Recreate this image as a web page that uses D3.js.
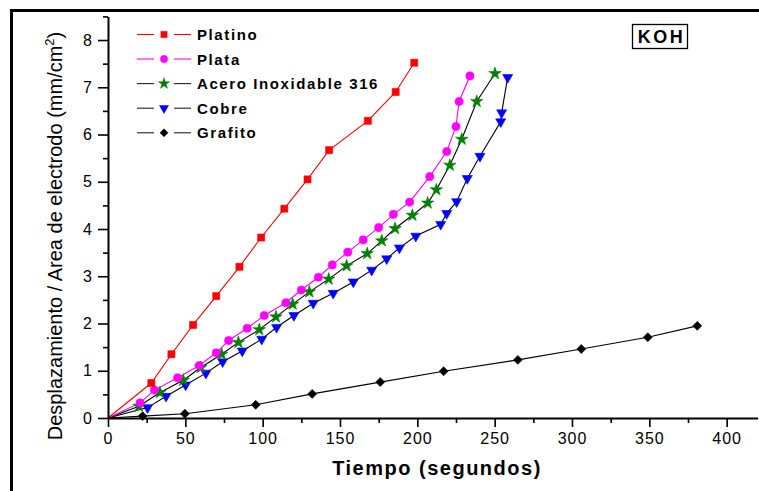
<!DOCTYPE html>
<html><head><meta charset="utf-8">
<script src="https://cdn.jsdelivr.net/npm/d3@7"></script>
<style>
html,body{margin:0;padding:0;background:#fff;}
svg{display:block;}
</style></head><body>
<svg id="chart" width="759" height="491"></svg>
<script>
// ---- data (time in seconds, displacement / area in mm/cm^2) ----
const seriesNames = ["Platino", "Plata", "Acero Inoxidable 316", "Cobre", "Grafito"];

const platinoTime  = [0, 28, 41, 55, 70, 85, 99, 114, 129, 143, 168, 186, 198];
const platinoValue = [0, 0.74, 1.35, 1.97, 2.58, 3.2, 3.82, 4.43, 5.05, 5.67, 6.29, 6.9, 7.52];

const plataTime  = [0, 20.7, 30, 45, 59, 70, 78, 90, 101, 115, 125, 136, 145, 155, 165, 175, 184.5, 195, 208, 219, 225, 227, 234];
const plataValue = [0, 0.32, 0.59, 0.85, 1.11, 1.38, 1.64, 1.9, 2.17, 2.44, 2.71, 2.98, 3.24, 3.51, 3.77, 4.03, 4.31, 4.57, 5.11, 5.64, 6.17, 6.7, 7.24];

const aceroTime  = [0, 20, 33.6, 48.7, 60, 73.5, 84.3, 97.8, 108.6, 119.4, 130.2, 142.7, 154.3, 167.6, 177, 185.6, 196.8, 206.7, 212.3, 221, 228.7, 238.4, 250.2];
const aceroValue = [0, 0.25, 0.54, 0.8, 1.07, 1.35, 1.6, 1.87, 2.14, 2.41, 2.67, 2.94, 3.22, 3.48, 3.75, 4.01, 4.29, 4.55, 4.83, 5.35, 5.9, 6.7, 7.29];

const cobreTime  = [0, 25.6, 37.5, 50.2, 63.3, 74.1, 86.8, 99.4, 109, 120.2, 132.7, 145.6, 158.6, 170.5, 180.2, 188.4, 199, 215.1, 219, 225.4, 232.3, 240.5, 253.9, 254.5, 258.4];
const cobreValue = [0, 0.22, 0.46, 0.7, 0.95, 1.19, 1.42, 1.67, 1.92, 2.17, 2.43, 2.64, 2.88, 3.13, 3.37, 3.6, 3.85, 4.1, 4.33, 4.58, 5.07, 5.54, 6.27, 6.46, 7.21];

const grafitoTime  = [0, 22.4, 49.7, 95.5, 132, 176, 217, 265, 306, 349, 381];
const grafitoValue = [0, 0.04, 0.09, 0.28, 0.51, 0.76, 0.99, 1.23, 1.46, 1.71, 1.95];

const xTickValues = [0, 50, 100, 150, 200, 250, 300, 350, 400];
const xMinorTickValues = [25, 75, 125, 175, 225, 275, 325, 375, 425];
const yTickValues = [0, 1, 2, 3, 4, 5, 6, 7, 8];
const yMinorTickValues = [0.5, 1.5, 2.5, 3.5, 4.5, 5.5, 6.5, 7.5, 8.5];

const xTitle = "Tiempo (segundos)";
const yTitle = "Desplazamiento / Area de electrodo (mm/cm";
const boxLabel = "KOH";

// ---- drawing ----
const svg = d3.select("#chart");
const font = "'Liberation Sans', Arial, sans-serif";

const x = d3.scaleLinear().domain([0, 420]).range([108, 757.6]);
const y = d3.scaleLinear().domain([0, 8.5]).range([418, 16.4]);

// outer frame
svg.append("rect").attr("x", 11.5).attr("y", 10.5).attr("width", 800).attr("height", 520)
  .attr("fill", "none").attr("stroke", "#000").attr("stroke-width", 3);

const series = [
  {name: seriesNames[0], t: platinoTime, v: platinoValue, line: "#ff0000", fill: "#ff0000", sym: d3.symbolSquare, size: 50, rot: 0, legendLine: "#ff0000"},
  {name: seriesNames[1], t: plataTime, v: plataValue, line: "#ff00ff", fill: "#ff00ff", sym: d3.symbolCircle, size: 52, rot: 0, legendLine: "#ff00ff"},
  {name: seriesNames[2], t: aceroTime, v: aceroValue, line: "#000000", fill: "#008000", sym: d3.symbolStar, size: 48, rot: 0, legendLine: "#222"},
  {name: seriesNames[3], t: cobreTime, v: cobreValue, line: "#000000", fill: "#0000ff", sym: d3.symbolTriangle, size: 44, rot: 180, legendLine: "#222"},
  {name: seriesNames[4], t: grafitoTime, v: grafitoValue, line: "#000000", fill: "#000000", sym: d3.symbolSquare, size: 40, rot: 45, legendLine: "#222"}
];

const lineGen = d3.line().x(d => x(d[0])).y(d => y(d[1]));

// draw lines (grafito first so colored ones are on top)
series.slice().reverse().forEach(s => {
  const pts = s.t.map((t, i) => [t, s.v[i]]);
  svg.append("path").attr("d", lineGen(pts)).attr("fill", "none")
    .attr("stroke", s.line).attr("stroke-width", 1.1);
});
series.slice().reverse().forEach(s => {
  const pts = s.t.map((t, i) => [t, s.v[i]]).slice(1);
  svg.append("g").selectAll("path").data(pts).join("path")
    .attr("d", d3.symbol().type(s.sym).size(s.size))
    .attr("transform", d => `translate(${x(d[0])},${y(d[1])}) rotate(${s.rot})`)
    .attr("fill", s.fill).attr("stroke", s.fill).attr("stroke-width", 0.6);
});

// axes
const xAxis = svg.append("g").attr("transform", "translate(0,418)")
  .call(d3.axisBottom(x).tickValues(xTickValues).tickSize(9).tickSizeOuter(0).tickPadding(6));
svg.append("g").attr("transform", "translate(0,418)")
  .call(d3.axisBottom(x).tickValues(xMinorTickValues.filter(v => v <= 420)).tickSize(5).tickSizeOuter(0).tickFormat(""))
  .select(".domain").remove();
const yAxis = svg.append("g").attr("transform", "translate(108,0)")
  .call(d3.axisLeft(y).tickValues(yTickValues).tickSize(10).tickSizeOuter(0).tickPadding(5));
svg.append("g").attr("transform", "translate(108,0)")
  .call(d3.axisLeft(y).tickValues(yMinorTickValues).tickSize(5).tickSizeOuter(0).tickFormat(""))
  .select(".domain").remove();

svg.selectAll(".domain").attr("stroke", "#000").attr("stroke-width", 2);
svg.selectAll(".tick line").attr("stroke", "#000").attr("stroke-width", 1.6);
svg.selectAll(".tick text").attr("font-family", font).attr("font-size", 16)
  .attr("letter-spacing", "1px").attr("fill", "#000");

// axis titles
svg.append("text").attr("x", 437).attr("y", 475).attr("text-anchor", "middle")
  .attr("font-family", font).attr("font-size", 20).attr("font-weight", "bold")
  .attr("letter-spacing", "1.5px").text(xTitle);

const yt = svg.append("text").attr("transform", "translate(62,236) rotate(-90)")
  .attr("text-anchor", "middle").attr("font-family", font).attr("font-size", 20);
yt.append("tspan").text(yTitle);
yt.append("tspan").attr("font-size", 13).attr("dy", -8).text("2");
yt.append("tspan").attr("dy", 8).text(")");

// legend
const legendY = [34.5, 59, 83.6, 108.2, 132.8];
series.forEach((s, i) => {
  const g = svg.append("g").attr("transform", `translate(0,${legendY[i]})`);
  g.append("line").attr("x1", 137).attr("x2", 154).attr("y1", 0).attr("y2", 0)
    .attr("stroke", s.legendLine).attr("stroke-width", 1.1);
  g.append("line").attr("x1", 174).attr("x2", 191).attr("y1", 0).attr("y2", 0)
    .attr("stroke", s.legendLine).attr("stroke-width", 1.1);
  g.append("path").attr("d", d3.symbol().type(s.sym).size(s.size * 0.8))
    .attr("transform", `translate(164,0) rotate(${s.rot})`)
    .attr("fill", s.fill).attr("stroke", s.fill).attr("stroke-width", 0.5);
  g.append("text").attr("x", 197).attr("y", 5.5).attr("font-family", font)
    .attr("font-size", 15).attr("font-weight", "bold").attr("letter-spacing", "1.6px")
    .text(s.name);
});

// KOH box
svg.append("rect").attr("x", 632.5).attr("y", 24.5).attr("width", 55).attr("height", 24)
  .attr("fill", "#fff").attr("stroke", "#000").attr("stroke-width", 1.3);
svg.append("text").attr("x", 661.5).attr("y", 43).attr("text-anchor", "middle")
  .attr("font-family", font).attr("font-size", 18).attr("font-weight", "bold")
  .attr("letter-spacing", "2.5px").text(boxLabel);
</script>
</body></html>
